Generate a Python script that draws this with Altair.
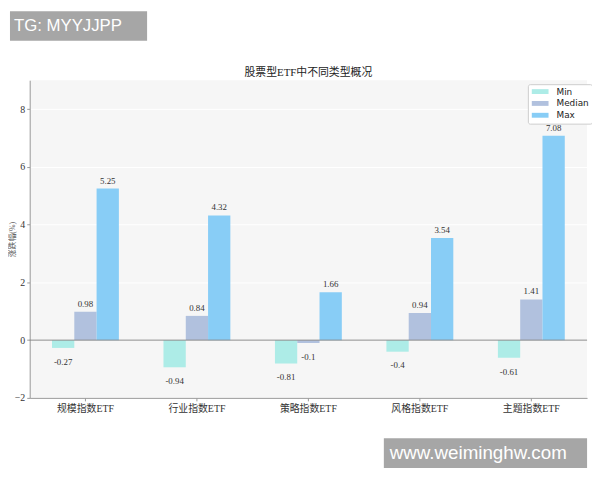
import altair as alt
import pandas as pd

categories = ["规模指数ETF", "行业指数ETF", "策略指数ETF", "风格指数ETF", "主题指数ETF"]
series = ["Min", "Median", "Max"]
min_vals = [-0.27, -0.94, -0.81, -0.4, -0.61]
median_vals = [0.98, 0.84, -0.1, 0.94, 1.41]
max_vals = [5.25, 4.32, 1.66, 3.54, 7.08]
colors = ["#adece7", "#b1c1de", "#88cdf6"]

rows = []
for s, vals in zip(series, [min_vals, median_vals, max_vals]):
    for c, v in zip(categories, vals):
        rows.append({"category": c, "series": s, "value": v, "label": str(v)})
df = pd.DataFrame(rows)

serif = "Liberation Serif, Noto Sans CJK SC"

x = alt.X("category:N", sort=categories, title=None,
          scale=alt.Scale(paddingInner=0.4, paddingOuter=0.2),
          axis=alt.Axis(labelAngle=0, labelFont=serif, labelFontSize=10,
                        labelColor="#333", domainColor="#999", tickColor="#999",
                        tickSize=3, labelPadding=3))
xo = alt.XOffset("series:N", sort=series)
y = alt.Y("value:Q", title="涨跌幅(%)",
          scale=alt.Scale(domain=[-2, 9], nice=False),
          axis=alt.Axis(values=[-2, 0, 2, 4, 6, 8], labelFont=serif, labelFontSize=10,
                        labelColor="#333", domainColor="#999", tickColor="#999",
                        tickSize=3, labelPadding=2, grid=True, gridColor="#ffffff",
                        titleFont=serif, titleFontSize=8, titleColor="#555",
                        titleFontWeight="normal", titleX=-17, titleY=161,
                        titleBaseline="middle"))

base = alt.Chart(df)

bars = base.mark_bar().encode(
    x=x, xOffset=xo, y=y,
    color=alt.Color("series:N", sort=series,
                    scale=alt.Scale(domain=series, range=colors),
                    legend=alt.Legend(title=None, orient="none", legendX=505, legendY=4,
                                      fillColor="white", strokeColor="#ccc",
                                      cornerRadius=2, padding=3,
                                      symbolType="M-1,-0.7H3.8V0.7H-1Z", symbolSize=50,
                                      symbolStrokeWidth=0, symbolOpacity=1,
                                      labelFont="DejaVu Sans", labelFontSize=9,
                                      labelColor="#222", labelOffset=17, rowPadding=2)),
)

pos_text = base.transform_filter("datum.value >= 0").mark_text(
    baseline="alphabetic", dy=-5, font="Liberation Serif", fontSize=9, color="#333"
).encode(x=x, xOffset=xo, y=y, text="label:N")

neg_text = base.transform_filter("datum.value < 0").mark_text(
    baseline="top", dy=10, font="Liberation Serif", fontSize=9, color="#333"
).encode(x=x, xOffset=xo, y=y, text="label:N")

zero = alt.Chart(pd.DataFrame({"y": [0]})).mark_rule(color="#888", strokeWidth=1).encode(
    y=alt.Y("y:Q")
)

one = alt.Data(values=[{"a": 1}])
title = alt.Chart(one).mark_text(
    text="股票型ETF中不同类型概况", font=serif, fontSize=11, color="#222",
    align="center", baseline="middle").encode(x=alt.value(282.5), y=alt.value(-7))
wm1_box = alt.Chart(one).mark_rect(color="#a6a6a6").encode(
    x=alt.value(-20), x2=alt.value(119), y=alt.value(-70), y2=alt.value(-40))
wm1_text = alt.Chart(one).mark_text(
    text="TG: MYYJJPP", color="white", font="Liberation Sans", fontSize=17,
    align="left", baseline="middle").encode(x=alt.value(-16), y=alt.value(-55))
wm2_box = alt.Chart(one).mark_rect(color="#a6a6a6").encode(
    x=alt.value(359), x2=alt.value(565), y=alt.value(363), y2=alt.value(393))
wm2_text = alt.Chart(one).mark_text(
    text="www.weiminghw.com", color="white", font="Liberation Sans", fontSize=19,
    align="left", baseline="middle").encode(x=alt.value(365), y=alt.value(378))

chart = alt.layer(bars, zero, pos_text, neg_text, title,
                  wm1_box, wm1_text, wm2_box, wm2_text).properties(
    width=565, height=322,
    autosize=alt.AutoSizeParams(type="none"),
    padding={"left": 22, "top": 70, "right": 5, "bottom": 80},
).configure_view(fill="#f6f6f6", strokeWidth=0)

chart.save("out.html", embed_options={"renderer": "svg", "actions": False})
